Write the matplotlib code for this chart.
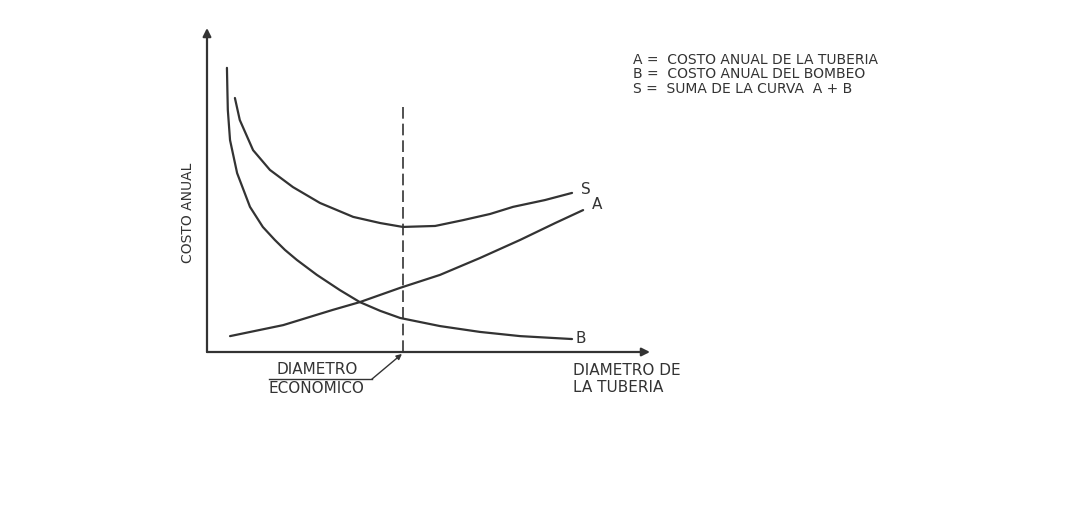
import matplotlib
matplotlib.use("Agg")
import matplotlib.pyplot as plt

# diameter (x) and annual cost (y), arbitrary units
a_diam = [5.2, 17.2, 28.4, 34.5, 43.6, 52.6, 61.6, 70.7, 78.6, 84.9]
a_cost = [4.9, 8.3, 13.0, 15.4, 19.8, 23.8, 29.0, 34.6, 39.8, 43.8]

b_diam = [4.5, 4.6, 4.7, 5.2, 6.8, 9.7, 12.6, 15.3, 17.6, 20.3, 24.8, 30.0,
          34.5, 39.1, 43.6, 52.6, 61.6, 70.7, 82.4]
b_cost = [87.7, 80.9, 74.7, 65.4, 55.2, 44.8, 38.6, 34.6, 31.5, 28.4, 23.8,
          19.1, 15.4, 12.7, 10.5, 8.0, 6.2, 4.9, 4.0]

s_diam = [6.3, 7.4, 10.4, 14.2, 19.4, 25.5, 33.0, 39.1, 44.2, 51.5, 57.8,
          63.9, 69.1, 76.3, 82.4]
s_cost = [78.4, 71.6, 62.3, 56.2, 50.9, 46.0, 41.7, 39.8, 38.6, 38.9, 40.7,
          42.6, 44.8, 46.9, 49.1]

economic_diam = 44.2
economic_top = 76.9

legend_lines = [
    "A =  COSTO ANUAL DE LA TUBERIA",
    "B =  COSTO ANUAL DEL BOMBEO",
    "S =  SUMA DE LA CURVA  A + B",
]

INK = "#333333"
W, H = 1082, 519

fig = plt.figure(figsize=(W / 100, H / 100), dpi=100)
ax = fig.add_axes([207 / W, (H - 352) / H, (650 - 207) / W, (352 - 28) / H])
ax.set_xlim(0, 100)
ax.set_ylim(0, 100)
ax.axis("off")

lw = 1.6
for xs, ys in [(a_diam, a_cost), (b_diam, b_cost), (s_diam, s_cost)]:
    ax.plot(xs, ys, color=INK, lw=lw, solid_capstyle="round",
            solid_joinstyle="round")
ax.plot([economic_diam, economic_diam], [0, economic_top], color=INK,
        lw=1.2, dashes=(7, 3))

# axes with arrows
arrow = dict(arrowstyle="-|>", color=INK, lw=1.6, mutation_scale=12,
             shrinkA=0, shrinkB=0)
ax.annotate("", xy=(100, 0), xytext=(0, 0), arrowprops=arrow,
            annotation_clip=False)
ax.annotate("", xy=(0, 100), xytext=(0, 0), arrowprops=arrow,
            annotation_clip=False)

txt = dict(color=INK, family="DejaVu Sans")
ax.text(a_diam[-1] + 3.1, a_cost[-1] + 1.6, "A", ha="center", va="center",
        fontsize=11, **txt)
ax.text(b_diam[-1] + 1.9, b_cost[-1] + 0.3, "B", ha="center", va="center",
        fontsize=11, **txt)
ax.text(s_diam[-1] + 3.2, s_cost[-1] + 1.2, "S", ha="center", va="center",
        fontsize=11, **txt)

ax.text(-4.3, 43.0, "COSTO ANUAL", rotation=90, ha="center", va="center",
        fontsize=10, **txt)
ax.text(24.8, -5.4, "DIAMETRO", ha="center", va="center", fontsize=11, **txt)
ax.text(24.8, -11.3, "ECONOMICO", ha="center", va="center", fontsize=11, **txt)
ax.plot([14.0, 37.2], [-8.4, -8.4], color=INK, lw=1.0, clip_on=False)
ax.annotate("", xy=(economic_diam - 0.2, -0.6), xytext=(37.2, -8.4),
            arrowprops=dict(arrowstyle="-|>", color=INK, lw=1.0,
                            mutation_scale=8, shrinkA=0, shrinkB=0),
            annotation_clip=False)

ax.text(82.6, -5.6, "DIAMETRO DE", ha="left", va="center", fontsize=11, **txt)
ax.text(82.6, -11.1, "LA TUBERIA", ha="left", va="center", fontsize=11, **txt)

for i, line in enumerate(legend_lines):
    ax.text(96.2, 90.1 - i * 4.4, line, ha="left", va="center",
            fontsize=10, **txt)

fig.savefig("out.png", dpi=100, facecolor="white")
